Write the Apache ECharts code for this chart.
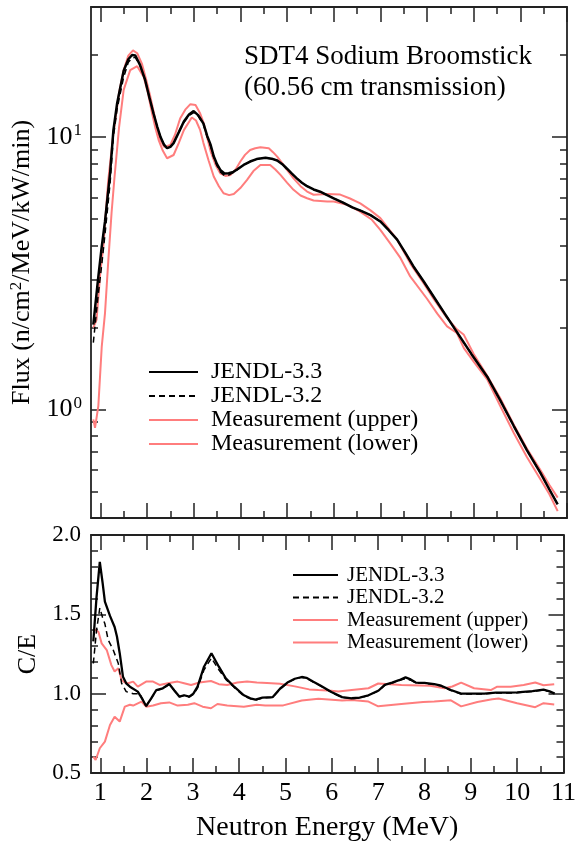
<!DOCTYPE html>
<html><head><meta charset="utf-8">
<script src="https://cdn.jsdelivr.net/npm/echarts@6/dist/echarts.min.js"></script>
<style>html,body{margin:0;padding:0;background:#fff}#c{width:579px;height:850px}</style>
</head><body><div id="c"></div>
<script>
const FONT = "'Liberation Serif','Times New Roman','DejaVu Serif',serif";
const RED = '#ff7d7d';
const AX = '#222';

// ---------- top panel: flux ----------
const j33E = [0.85,0.95,1.03,1.10,1.21,1.28,1.36,1.50,1.60,1.68,1.75,1.85,1.96,2.05,2.14,2.22,2.29,2.36,2.43,2.50,2.57,2.68,2.79,2.90,3.00,3.10,3.21,3.29,3.36,3.43,3.50,3.57,3.66,3.75,3.85,3.93,4.07,4.21,4.35,4.54,4.70,4.79,4.90,5.00,5.10,5.21,5.32,5.43,5.57,5.71,5.86,6.00,6.20,6.40,6.60,6.79,7.00,7.18,7.36,7.54,7.71,7.93,8.14,8.38,8.61,8.95,9.29,9.57,9.86,10.14,10.43,10.62,10.80];
const j33F = [2.05,3.0,3.96,4.9,7.4,10.6,13.3,17.5,19.3,20.0,19.9,18.4,16.2,14.0,12.2,10.9,10.0,9.4,9.1,9.2,9.5,10.4,11.4,12.1,12.45,12.0,11.2,10.1,9.4,8.5,7.95,7.57,7.35,7.36,7.45,7.6,7.9,8.13,8.3,8.4,8.3,8.2,7.95,7.65,7.35,7.05,6.8,6.6,6.42,6.3,6.12,5.96,5.75,5.52,5.35,5.17,4.9,4.55,4.2,3.75,3.35,2.95,2.6,2.25,1.96,1.6,1.32,1.08,0.87,0.71,0.586,0.51,0.449];
const j32E = [0.85,0.95,1.03,1.10,1.21,1.28,1.36,1.50,1.60,1.68,1.75,1.85,1.96,2.05,2.14,2.22,2.29,2.36,2.43,2.50,2.57,2.68,2.79,2.90,3.00,3.10,3.21,3.29,3.36,3.43,3.50,3.57,3.66,3.75,3.85,3.93,4.07,4.21,4.35,4.54,4.70,4.79,4.90,5.00,5.10,5.21,5.32,5.43,5.57,5.71,5.86,6.00,6.20,6.40,6.60,6.79,7.00,7.18,7.36,7.54,7.71,7.93,8.14,8.38,8.61,8.95,9.29,9.57,9.86,10.14,10.43,10.62,10.80];
const j32F = [1.76,2.6,3.4,4.4,6.8,10.0,12.7,16.6,18.8,19.5,19.6,18.3,16.2,14.0,12.2,10.9,10.0,9.4,9.1,9.2,9.5,10.4,11.3,12.0,12.3,11.9,11.1,10.0,9.3,8.4,7.85,7.45,7.22,7.25,7.4,7.58,7.9,8.13,8.3,8.4,8.3,8.2,7.95,7.65,7.35,7.05,6.8,6.6,6.42,6.3,6.12,5.96,5.75,5.52,5.35,5.17,4.9,4.55,4.2,3.75,3.35,2.95,2.6,2.25,1.96,1.6,1.32,1.08,0.87,0.71,0.586,0.51,0.449];
const muE = [0.85,0.92,1.00,1.064,1.17,1.28,1.40,1.50,1.60,1.70,1.79,1.89,1.98,2.07,2.16,2.25,2.37,2.50,2.60,2.71,2.82,2.93,3.04,3.14,3.21,3.36,3.47,3.57,3.68,3.79,3.90,4.00,4.10,4.21,4.32,4.43,4.61,4.70,4.79,4.90,5.00,5.14,5.29,5.43,5.57,5.86,6.14,6.35,6.57,6.79,7.00,7.18,7.36,7.64,7.93,8.14,8.40,8.64,8.79,9.00,9.29,9.57,9.86,10.14,10.43,10.62,10.80];
const muF = [2.0,2.14,3.2,3.96,6.95,10.3,14.5,17.6,19.9,20.8,20.3,18.6,16.3,14.1,12.0,10.0,9.2,9.35,10.2,11.7,12.6,13.2,13.1,12.2,11.3,8.9,7.9,7.36,7.2,7.26,7.6,8.13,8.6,8.96,9.1,9.17,9.1,8.8,8.47,8.0,7.57,7.05,6.6,6.31,6.14,6.18,6.15,5.95,5.71,5.38,5.04,4.6,4.2,3.44,2.9,2.55,2.2,1.97,1.88,1.6,1.33,1.1,0.88,0.72,0.60,0.53,0.475];
const mlE = [0.85,0.886,0.957,1.03,1.10,1.17,1.24,1.30,1.40,1.50,1.64,1.79,1.93,2.02,2.11,2.18,2.25,2.34,2.43,2.57,2.68,2.79,2.96,3.05,3.14,3.21,3.32,3.43,3.54,3.64,3.76,3.86,4.00,4.14,4.28,4.43,4.64,4.75,4.86,5.00,5.14,5.29,5.43,5.57,5.86,6.00,6.29,6.55,6.82,7.00,7.20,7.43,7.64,8.00,8.22,8.43,8.64,8.79,9.00,9.29,9.57,9.86,10.14,10.43,10.62,10.80];
const mlF = [0.92,0.857,1.03,1.7,2.26,3.5,5.25,7.0,10.8,14.9,17.6,18.2,16.6,14.5,12.2,10.8,9.75,8.9,8.36,8.59,9.5,10.6,11.8,11.5,10.6,9.5,8.2,7.16,6.6,6.22,6.12,6.18,6.5,6.95,7.5,7.89,7.89,7.6,7.26,6.8,6.4,6.1,5.96,5.85,5.8,5.8,5.64,5.35,4.97,4.56,4.1,3.6,3.08,2.55,2.25,2.02,1.91,1.68,1.5,1.29,1.03,0.82,0.67,0.555,0.49,0.424];

// ---------- bottom panel: C/E ----------
const c33E = [0.85,0.92,0.99,1.05,1.10,1.21,1.31,1.36,1.42,1.49,1.56,1.64,1.81,1.90,1.99,2.10,2.21,2.35,2.49,2.60,2.71,2.81,2.92,3.01,3.10,3.24,3.40,3.56,3.71,3.89,4.10,4.24,4.35,4.50,4.72,4.88,5.04,5.20,5.35,5.45,5.60,5.75,5.99,6.22,6.43,6.60,6.79,7.01,7.14,7.30,7.45,7.59,7.70,7.81,8.00,8.21,8.36,8.57,8.79,9.00,9.29,9.54,9.80,10.00,10.33,10.57,10.70,10.81];
const c33 = [1.33,1.61,1.83,1.70,1.58,1.49,1.42,1.36,1.255,1.107,1.065,1.044,1.013,0.97,0.922,0.97,1.023,1.034,1.061,1.02,0.981,0.99,0.981,1.0,1.044,1.17,1.255,1.17,1.097,1.044,0.99,0.971,0.962,0.975,0.978,1.031,1.07,1.094,1.105,1.10,1.075,1.052,1.01,0.978,0.971,0.975,0.99,1.02,1.055,1.07,1.085,1.103,1.09,1.07,1.068,1.06,1.05,1.023,1.0,1.0,1.0,1.006,1.006,1.008,1.016,1.025,1.015,1.0];
const c32E = [0.85,0.92,0.99,1.05,1.10,1.17,1.28,1.39,1.46,1.56,1.71,1.85,1.99,2.10,2.21,2.35,2.49,2.60,2.71,2.81,2.92,3.01,3.10,3.24,3.40,3.56,3.71,3.89,4.10,4.24,4.35,4.50,4.72,4.88,5.04,5.20,5.35,5.45,5.60,5.75,5.99,6.22,6.43,6.60,6.79,7.01,7.14,7.30,7.45,7.59,7.70,7.81,8.00,8.21,8.36,8.57,8.79,9.00,9.29,9.54,9.80,10.00,10.33,10.57,10.70,10.81];
const c32 = [1.19,1.40,1.54,1.48,1.44,1.34,1.275,1.19,1.066,1.013,1.0,1.0,0.922,0.97,1.02,1.032,1.058,1.018,0.98,0.988,0.979,0.995,1.035,1.15,1.225,1.15,1.09,1.04,0.985,0.968,0.96,0.973,0.977,1.028,1.068,1.092,1.103,1.098,1.073,1.05,1.008,0.976,0.969,0.973,0.988,1.018,1.052,1.067,1.082,1.095,1.085,1.068,1.066,1.058,1.048,1.02,0.998,0.998,0.998,1.004,1.004,1.006,1.014,1.022,1.013,0.998];
const cuE = [0.85,0.89,0.96,1.03,1.14,1.24,1.31,1.39,1.46,1.53,1.60,1.71,1.81,1.90,1.99,2.14,2.28,2.46,2.67,2.81,2.96,3.14,3.39,3.56,3.74,3.96,4.17,4.38,4.60,4.88,5.20,5.51,5.71,5.99,6.14,6.43,6.79,7.00,7.50,8.12,8.43,8.60,8.79,9.07,9.43,9.57,9.86,10.14,10.39,10.57,10.80];
const cu = [1.41,1.41,1.39,1.317,1.275,1.18,1.14,1.16,1.086,1.07,1.066,1.076,1.044,1.06,1.076,1.076,1.055,1.066,1.076,1.066,1.055,1.07,1.08,1.06,1.055,1.07,1.076,1.07,1.067,1.063,1.046,1.027,1.023,1.018,1.013,1.023,1.034,1.064,1.055,1.05,1.034,1.045,1.07,1.034,1.023,1.044,1.044,1.055,1.07,1.053,1.06];
const clE = [0.85,0.90,0.99,1.10,1.21,1.31,1.42,1.53,1.64,1.71,1.89,1.99,2.14,2.31,2.49,2.67,2.89,3.03,3.21,3.39,3.53,3.74,4.10,4.38,4.56,4.95,5.35,5.71,6.22,6.43,6.79,7.00,7.50,7.97,8.21,8.57,8.79,9.14,9.46,9.60,10.00,10.39,10.57,10.80];
const cl = [0.603,0.582,0.656,0.698,0.803,0.855,0.824,0.918,0.93,0.925,0.95,0.918,0.925,0.94,0.945,0.925,0.93,0.94,0.918,0.908,0.935,0.925,0.918,0.93,0.925,0.926,0.957,0.968,0.957,0.96,0.95,0.92,0.935,0.947,0.95,0.958,0.92,0.948,0.965,0.97,0.94,0.915,0.94,0.932];

// ---------- ticks / labels ----------
const xMajor = [1,2,3,4,5,6,7,8,9,10,11];
const xMinor = [1.5,2.5,3.5,4.5,5.5,6.5,7.5,8.5,9.5,10.5];
const fluxMajor = [1,10];
const fluxMinor = [0.4,0.5,0.6,0.7,0.8,0.9,2,3,4,5,6,7,8,9,20];
const ceMajor = [0.5,1.0,1.5,2.0];
const ceMinor = [0.6,0.7,0.8,0.9,1.1,1.2,1.3,1.4,1.6,1.7,1.8,1.9];

const names = ['JENDL-3.3','JENDL-3.2','Measurement (upper)','Measurement (lower)'];

const zip = (a, b) => a.map((v, i) => [v, b[i]]);

function mkAxis(grid, pos, type, min, max, ticks, len, line, label, extra) {
  const ax = {
    type: type, gridIndex: grid, position: pos, min: min, max: max,
    splitLine: {show: false},
    axisLine: {show: line, onZero: false, lineStyle: {color: AX, width: 1.8}},
    axisTick: {show: true, inside: true, length: len, customValues: ticks, lineStyle: {color: AX, width: 1.5}},
    axisLabel: label ? label : {show: false}
  };
  if (type === 'log') ax.logBase = 10;
  return Object.assign(ax, extra || {});
}

const xAxes = [];
const yAxes = [];
for (let g = 0; g < 2; g++) {
  const xl = g === 1 ? {show: true, customValues: xMajor, fontSize: 26, fontFamily: FONT, color: '#000', margin: 7} : null;
  const xExtra = g === 1 ? {name: 'Neutron Energy (MeV)', nameLocation: 'middle', nameGap: 41,
    nameTextStyle: {fontSize: 28, fontFamily: FONT, color: '#000'}} : {};
  xAxes.push(mkAxis(g, 'bottom', 'value', 0.8, 11, xMajor, 15, true, xl, xExtra));
  xAxes.push(mkAxis(g, 'bottom', 'value', 0.8, 11, xMinor, 7, false, null));
  xAxes.push(mkAxis(g, 'top', 'value', 0.8, 11, xMajor, 15, true, null));
  xAxes.push(mkAxis(g, 'top', 'value', 0.8, 11, xMinor, 7, false, null));
}
// top panel log y
const supRich = {
  b: {fontSize: 26, fontFamily: FONT, color: '#000'},
  s: {fontSize: 17, fontFamily: FONT, color: '#000', verticalAlign: 'top', padding: [0, 0, 12, 1]}
};
yAxes.push(mkAxis(0, 'left', 'log', 0.4, 30, fluxMajor, 15, true,
  {show: true, customValues: fluxMajor, margin: 9,
   formatter: v => '{b|10}{s|' + Math.round(Math.log10(v)) + '}', rich: supRich},
  {name: '{a|Flux (n/cm}{s|2}{a|/MeV/kW/min)}', nameLocation: 'middle', nameGap: 41,
   nameTextStyle: {fontSize: 26, fontFamily: FONT, color: '#000', rich: {
     a: {fontSize: 26, fontFamily: FONT, color: '#000'},
     s: {fontSize: 17, fontFamily: FONT, color: '#000', verticalAlign: 'top', padding: [0, 0, 12, 0]}}}}));
yAxes.push(mkAxis(0, 'left', 'log', 0.4, 30, fluxMinor, 7, false, null));
yAxes.push(mkAxis(0, 'right', 'log', 0.4, 30, fluxMajor, 15, true, null));
yAxes.push(mkAxis(0, 'right', 'log', 0.4, 30, fluxMinor, 7, false, null));
// bottom panel C/E y
yAxes.push(mkAxis(1, 'left', 'value', 0.5, 2.0, ceMajor, 15, true,
  {show: true, customValues: ceMajor, margin: 10, fontSize: 23, fontFamily: FONT, color: '#000',
   formatter: v => v.toFixed(1)},
  {name: 'C/E', nameLocation: 'middle', nameGap: 45,
   nameTextStyle: {fontSize: 26, fontFamily: FONT, color: '#000'}}));
yAxes.push(mkAxis(1, 'left', 'value', 0.5, 2.0, ceMinor, 7, false, null));
yAxes.push(mkAxis(1, 'right', 'value', 0.5, 2.0, ceMajor, 15, true, null));
yAxes.push(mkAxis(1, 'right', 'value', 0.5, 2.0, ceMinor, 7, false, null));

function line(name, data, g, color, width, dashed) {
  return {
    type: 'line', name: name, data: data, xAxisIndex: g * 4, yAxisIndex: g * 4,
    symbol: 'none', smooth: false, silent: true, clip: true,
    lineStyle: {color: color, width: width, type: dashed ? [6, 4] : 'solid'},
    itemStyle: {color: color}
  };
}

const series = [
  line(names[2], zip(muE, muF), 0, RED, 2, false),
  line(names[3], zip(mlE, mlF), 0, RED, 2, false),
  line(names[1], zip(j32E, j32F), 0, '#000', 1.5, true),
  line(names[0], zip(j33E, j33F), 0, '#000', 2.5, false),
  line(names[2], zip(cuE, cu), 1, RED, 2, false),
  line(names[3], zip(clE, cl), 1, RED, 2, false),
  line(names[1], zip(c32E, c32), 1, '#000', 1.5, true),
  line(names[0], zip(c33E, c33), 1, '#000', 2.3, false)
];

const chart = echarts.init(document.getElementById('c'), null, {renderer: 'canvas'});
chart.setOption({
  animation: false,
  backgroundColor: '#fff',
  title: {
    text: 'SDT4 Sodium Broomstick\n(60.56 cm transmission)',
    left: 244, top: 41, padding: 0,
    textStyle: {fontSize: 27, fontWeight: 'normal', fontFamily: FONT, color: '#000', lineHeight: 31}
  },
  grid: [
    {left: 91, top: 7, width: 476, height: 511},
    {left: 91, top: 535, width: 476, height: 238}
  ],
  xAxis: xAxes,
  yAxis: yAxes,
  legend: [
    {left: 148, top: 360, orient: 'vertical', itemWidth: 49, itemHeight: 1, itemGap: 0, padding: 0,
     selectedMode: false, data: names, itemStyle: {opacity: 0},
     textStyle: {fontSize: 24, fontFamily: FONT, color: '#000', lineHeight: 24, padding: [0, 0, 0, 8]}},
    {left: 292, top: 564, orient: 'vertical', itemWidth: 45, itemHeight: 1, itemGap: 0.5, padding: 0,
     selectedMode: false, data: names, itemStyle: {opacity: 0},
     textStyle: {fontSize: 21, fontFamily: FONT, color: '#000', lineHeight: 22, padding: [0, 0, 0, 4]}}
  ],
  series: series
});
</script>
</body></html>
